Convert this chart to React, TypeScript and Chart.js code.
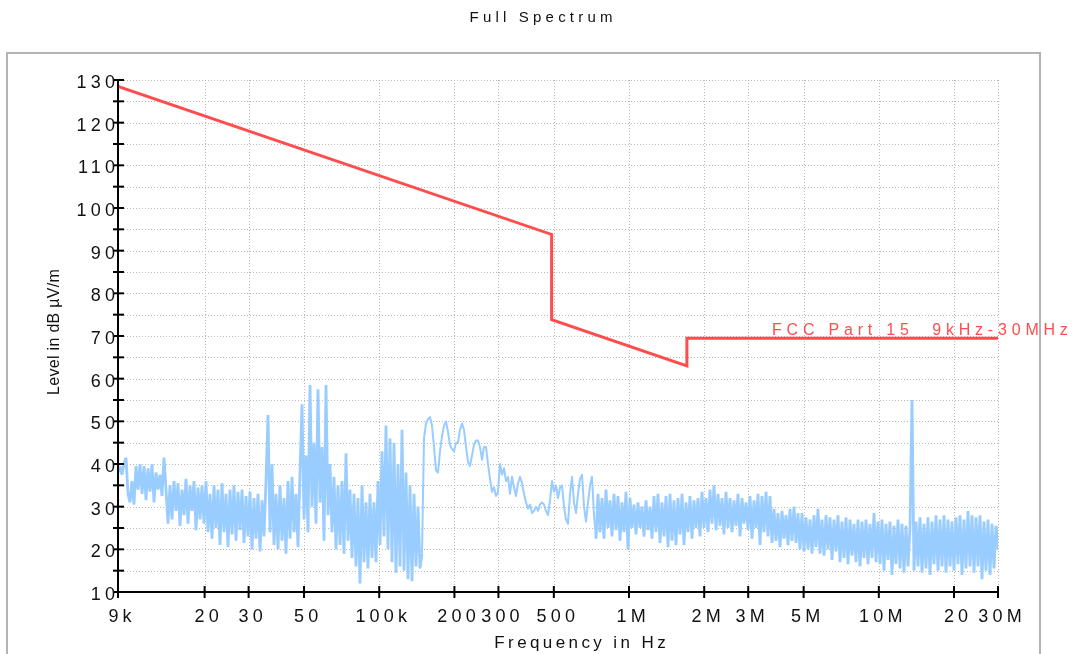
import React, { useEffect, useRef } from 'react';
import { Chart, registerables } from 'chart.js';

Chart.register(...registerables);

const TITLE = 'Full Spectrum';
const X_TITLE = 'Frequency in Hz';
const Y_TITLE = 'Level in dB µV/m';
const LIMIT_LABEL = 'FCC Part 15  9kHz-30MHz';

const X_TICK_VALUES = [9e3, 2e4, 3e4, 5e4, 1e5, 2e5, 3e5, 5e5, 1e6, 2e6, 3e6, 5e6, 1e7, 2e7, 3e7];
const X_TICK_LABELS = ['9k', '20', '30', '50', '100k', '200', '300', '500', '1M', '2M', '3M', '5M', '10M', '20', '30M'];
const Y_TICK_VALUES = [10, 20, 30, 40, 50, 60, 70, 80, 90, 100, 110, 120, 130];

const X_MIN = 9e3;
const X_MAX = 30e6;
const Y_MIN = 10;
const Y_MAX = 130;

// FCC Part 15 limit line (frequency in Hz, level in dBµV/m)
const LIMIT_FREQ = [9e3, 490e3, 490e3, 1.705e6, 1.705e6, 30e6];
const LIMIT_LEVEL = [128.5, 93.8, 73.8, 63.0, 69.5, 69.5];

const SWEEP_START = 9e3;
const SWEEP_STOP = 30e6;
const TRACE_LEVEL = [
  38, 39.5, 37.5, 40, 41.5, 33, 31, 36, 30.5, 39.5,
  34, 40, 33, 39.5, 31.5, 39, 33.5, 40, 31, 38,
  34, 37.5, 32.5, 41.5, 34, 26, 35, 27, 36, 29,
  35.5, 25.5, 34, 28, 36.5, 26, 35, 29, 36, 24.5,
  34.5, 27, 35, 26, 36, 24, 33, 22.5, 35, 25,
  34, 21, 35.5, 24, 33, 20.5, 34, 23.5, 35, 22,
  33.5, 24.5, 34, 21.5, 32.5, 23, 33.5, 20, 32, 22.5,
  33, 19.5, 31.5, 23, 36, 51.5, 24, 40, 21, 33,
  20, 35, 22, 32, 19, 36, 22.5, 37, 24, 33,
  20.5, 38, 54, 27, 42, 24, 58.5, 30, 45, 26,
  57.5, 31, 44, 22, 58.5, 28, 40, 24, 37, 20,
  35, 21, 36, 19, 42.5, 22, 34, 18, 33, 16,
  32, 12, 35, 17, 31, 15.5, 33, 18, 31, 17,
  36, 21, 43, 23, 49, 20, 46, 17, 45, 14.5,
  40, 16, 48, 15, 38, 13, 35, 12.5, 33, 16,
  30, 15.5, 19, 46, 49.5, 50.5, 51, 49, 44, 38.5,
  38, 43, 46.5, 49, 50, 47.5, 44.5, 43.5, 43, 45,
  45, 48, 49.5, 48, 44, 40.5, 39.5, 42, 44.5, 45.5,
  45.5, 44, 41, 44, 44, 40, 36.5, 33.5, 34.5, 32.5,
  33.5, 40, 37.5, 39, 36, 37, 33, 37, 34.5, 32.5,
  35.5, 37, 35.5, 33, 31, 29.5, 30.5, 28.5, 29, 30,
  29, 30.5, 31, 30.5, 29, 28, 31.5, 36, 33.5, 35,
  32, 34.5, 35, 30, 27, 26, 33, 37, 31, 28.5,
  33, 36.5, 37.5, 30, 26.5, 31, 35, 37, 28, 22.5,
  33, 24, 32, 22.5, 34, 25, 31.5, 23, 33, 24.5,
  32.5, 22, 31, 24, 33.5, 20, 32, 25, 30.5, 23.5,
  31, 25, 30, 23, 31.5, 24.5, 30, 22.5, 32.5, 24,
  33, 21.5, 31, 23, 32.5, 20.5, 33, 22, 31.5, 21,
  32, 23.5, 33, 21, 31, 24, 32.5, 22.5, 31.5, 25,
  32, 23, 33.5, 25, 32, 24, 34, 26, 35, 24.5,
  33, 25.5, 32, 23.5, 33.5, 25, 32, 24, 31.5, 25.5,
  33, 23, 32, 26, 31, 24.5, 32.5, 22.5, 31.5, 25,
  33, 21, 32.5, 24, 33.5, 23, 32.5, 21.5, 29.5, 22,
  28.5, 20.5, 29, 22.5, 28, 21, 29.5, 22, 30, 21.5,
  28.5, 20, 28.5, 19.5, 27.5, 20, 27, 19, 28, 20.5,
  29.5, 19, 27, 18.5, 28, 20, 27.5, 17.5, 27, 19.5,
  28, 17, 26.5, 18, 27.5, 16.5, 27, 18.5, 26, 17,
  27, 16, 26.5, 18, 27, 16.5, 26, 18, 28.5, 17,
  26.5, 16.5, 27, 15, 26, 17.5, 26.5, 14, 25.5, 16.5,
  27, 15.5, 26, 14.5, 25.5, 16, 25, 55, 15, 26.5,
  16, 27.5, 14.5, 26, 15.5, 27.5, 14, 26.5, 16.5, 28,
  15, 27, 16, 28, 14.5, 27, 16, 26.5, 15, 27.5,
  16.5, 28, 14, 27, 15.5, 29, 16, 28, 14.5, 27.5,
  16, 28, 13, 26.5, 15, 27, 14, 26, 15.5, 25.5,
  20,
];

// index ranges of the sweep: dense band A, smooth start of band B, dense rest of band B
const TRACE_PARTS = [
  [0, 152],
  [152, 239],
  [239, 440],
];

const FONT = '"Liberation Sans", Arial, sans-serif';
const LIMIT_COLOR = '#ff4d4d';
const TRACE_COLOR = '#99ccff';

function drawSpaced(
  ctx: CanvasRenderingContext2D,
  text: string,
  x: number,
  y: number,
  font: string,
  spacing: number,
  align: 'left' | 'center' | 'right',
  color: string,
  baseline: CanvasTextBaseline = 'alphabetic'
) {
  ctx.save();
  ctx.font = font;
  (ctx as any).letterSpacing = '0px';
  const n = Array.from(text).length;
  const w0 = ctx.measureText(text).width;
  const w = w0 + spacing * (n - 1);
  (ctx as any).letterSpacing = spacing + 'px';
  ctx.textAlign = 'left';
  ctx.textBaseline = baseline;
  ctx.fillStyle = color;
  let left = x;
  if (align === 'center') left = x - w / 2;
  else if (align === 'right') left = x - w;
  ctx.fillText(text, left, y);
  ctx.restore();
}

const decorPlugin = {
  id: 'decor',
  beforeDraw(chart: any) {
    const ctx: CanvasRenderingContext2D = chart.ctx;
    ctx.save();
    ctx.fillStyle = '#ffffff';
    ctx.fillRect(0, 0, chart.width, chart.height);
    ctx.strokeStyle = '#b4b4b4';
    ctx.lineWidth = 2;
    ctx.strokeRect(7, 53, 1033, 700);
    ctx.restore();
    drawSpaced(ctx, TITLE, 541, 22, '15px ' + FONT, 4.2, 'center', '#111');
  },
  beforeDatasetsDraw(chart: any) {
    const ctx: CanvasRenderingContext2D = chart.ctx;
    const { left, right, top, bottom } = chart.chartArea;
    const xs = chart.scales.x;
    const ys = chart.scales.y;
    ctx.save();
    ctx.strokeStyle = '#b8b8b8';
    ctx.lineWidth = 1;
    ctx.setLineDash([1, 2]);
    for (let v = Y_MIN + 5; v <= Y_MAX; v += 5) {
      const y = Math.round(ys.getPixelForValue(v)) + 0.5;
      ctx.beginPath();
      ctx.moveTo(left, y);
      ctx.lineTo(right, y);
      ctx.stroke();
    }
    X_TICK_VALUES.forEach((v) => {
      if (v === X_MIN) return;
      const x = Math.round(xs.getPixelForValue(v)) + 0.5;
      ctx.beginPath();
      ctx.moveTo(x, top);
      ctx.lineTo(x, bottom);
      ctx.stroke();
    });
    ctx.restore();
  },
  afterDatasetsDraw(chart: any) {
    const ctx: CanvasRenderingContext2D = chart.ctx;
    const { left, right, top, bottom } = chart.chartArea;
    const xs = chart.scales.x;
    const ys = chart.scales.y;
    ctx.save();
    ctx.strokeStyle = '#000';
    ctx.lineWidth = 2;
    ctx.setLineDash([]);
    ctx.beginPath();
    ctx.moveTo(left, top);
    ctx.lineTo(left, bottom);
    ctx.lineTo(right, bottom);
    ctx.stroke();
    for (let v = Y_MIN; v <= Y_MAX; v += 5) {
      const y = ys.getPixelForValue(v);
      ctx.beginPath();
      ctx.moveTo(left - 5, y);
      ctx.lineTo(left + 6, y);
      ctx.stroke();
    }
    X_TICK_VALUES.forEach((v) => {
      const x = xs.getPixelForValue(v);
      ctx.beginPath();
      ctx.moveTo(x, bottom - 6);
      ctx.lineTo(x, bottom + 6);
      ctx.stroke();
    });
    ctx.restore();

    Y_TICK_VALUES.forEach((v) => {
      const y = ys.getPixelForValue(v);
      drawSpaced(ctx, String(v), left - 3, y + 8, '18px ' + FONT, 4.2, 'right', '#111');
    });
    X_TICK_VALUES.forEach((v, i) => {
      const x = xs.getPixelForValue(v);
      drawSpaced(ctx, X_TICK_LABELS[i], x + 2, bottom + 30, '18px ' + FONT, 4.2, 'center', '#111');
    });

    drawSpaced(ctx, X_TITLE, (left + right) / 2 + 22, bottom + 56, '17px ' + FONT, 3.4, 'center', '#111');
    ctx.save();
    ctx.translate(55, (top + bottom) / 2 - 4);
    ctx.rotate(-Math.PI / 2);
    drawSpaced(ctx, Y_TITLE, 0, 0, '16px ' + FONT, 0.3, 'center', '#111', 'middle');
    ctx.restore();

    const ly = ys.getPixelForValue(LIMIT_LEVEL[LIMIT_LEVEL.length - 1]) - 3;
    drawSpaced(ctx, LIMIT_LABEL, right - 226, ly, '16px ' + FONT, 4.8, 'left', LIMIT_COLOR);
  },
};

export default function App() {
  const ref = useRef<HTMLCanvasElement | null>(null);

  useEffect(() => {
    document.body.style.margin = '0';
    const canvas = ref.current;
    if (!canvas) return;

    const n = TRACE_LEVEL.length;
    const ratio = SWEEP_STOP / SWEEP_START;
    const tracePoints = TRACE_LEVEL.map((lv, i) => ({
      x: SWEEP_START * Math.pow(ratio, i / (n - 1)),
      y: lv,
    }));
    const limitData = LIMIT_FREQ.map((f, i) => ({ x: f, y: LIMIT_LEVEL[i] }));

    const traceSets = TRACE_PARTS.map(([a, b], k) => ({
      label: 'Trace ' + k,
      data: tracePoints.slice(a, b + 1),
      borderColor: TRACE_COLOR,
      borderWidth: k === 1 ? 2 : 2.8,
      borderJoinStyle: k === 1 ? 'round' : 'bevel',
      pointRadius: 0,
      tension: 0,
      fill: false,
      order: 2,
    }));

    const chart = new Chart(canvas, {
      type: 'line',
      data: {
        datasets: [
          ...traceSets,
          {
            label: LIMIT_LABEL,
            data: limitData,
            borderColor: LIMIT_COLOR,
            borderWidth: 3,
            pointRadius: 0,
            tension: 0,
            fill: false,
            order: 1,
          },
        ],
      },
      options: {
        animation: false,
        responsive: false,
        devicePixelRatio: 1,
        layout: { padding: { left: 118, right: 78, top: 80, bottom: 62 } },
        plugins: {
          legend: { display: false },
          tooltip: { enabled: false },
          title: { display: false },
        },
        events: [],
        scales: {
          x: { type: 'logarithmic', min: X_MIN, max: X_MAX, display: false },
          y: { type: 'linear', min: Y_MIN, max: Y_MAX, display: false },
        },
      },
      plugins: [decorPlugin],
    } as any);

    return () => chart.destroy();
  }, []);

  return <canvas ref={ref} width={1076} height={654} style={{ display: 'block' }} />;
}
